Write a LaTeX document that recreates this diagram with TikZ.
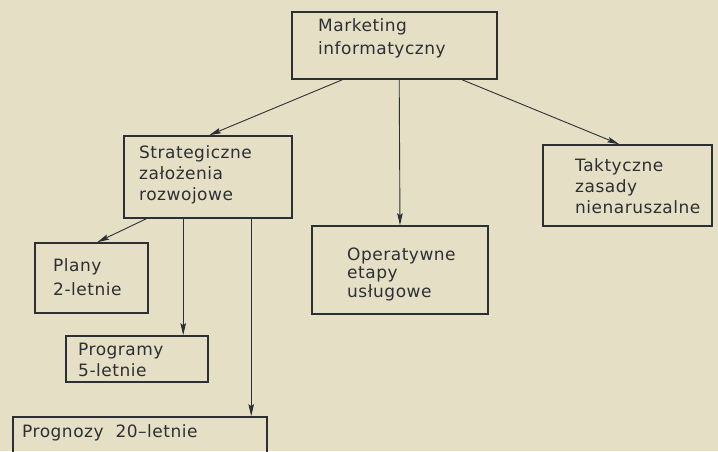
\documentclass[tikz,border=0pt]{standalone}
\usepackage{fontspec}
\setmainfont{DejaVu Sans}[LetterSpace=3]
\usetikzlibrary{arrows.meta,calc}
\definecolor{paper}{RGB}{229,223,197}
\definecolor{ink}{RGB}{44,48,52}
\begin{document}
\begin{tikzpicture}[x=1pt,y=-1pt,
  box/.style={draw=ink,line width=1.6pt,rectangle,inner sep=0pt},
  lbl/.style={anchor=west,inner sep=0pt,align=left,text=ink},
  arr/.style={draw=ink,line width=0.9pt,-{Stealth[length=12pt,width=5.5pt,inset=2pt]}}]
\fill[paper] (0,0) rectangle (718,451);
\useasboundingbox (0,0) rectangle (718,451);
% boxes
\node[box,minimum width=205pt,minimum height=67pt] (mk) at (394.5,45.5) {};
\node[box,minimum width=168pt,minimum height=82pt] (st) at (208,177) {};
\node[box,minimum width=113pt,minimum height=70pt] (pl) at (91.5,278) {};
\node[box,minimum width=142pt,minimum height=46pt] (pr) at (137,359) {};
\node[box,minimum width=254pt,minimum height=60pt] (pg) at (140,447) {};
\node[box,minimum width=176pt,minimum height=88pt] (op) at (400,270) {};
\node[box,minimum width=169pt,minimum height=81pt] (tk) at (627.5,185.5) {};
% labels
\node[lbl,font=\fontsize{17}{23}\selectfont] (tmk) at (318,38.5) {Marketing\\informatyczny};
\node[lbl,font=\fontsize{17}{21}\selectfont] (tst) at (139,175) {Strategiczne\\założenia\\rozwojowe};
\node[lbl,font=\fontsize{17}{24}\selectfont] (tpl) at (53,277) {Plany\\2-letnie};
\node[lbl,font=\fontsize{17}{21}\selectfont] (tpr) at (78,360) {Programy\\5-letnie};
\node[lbl,font=\fontsize{17}{21}\selectfont] (tpg) at (22,433) {Prognozy\ \ 20–letnie};
\node[lbl,font=\fontsize{17}{18.5}\selectfont] (top) at (347,274) {Operatywne\\etapy\\usługowe};
\node[lbl,font=\fontsize{17}{21}\selectfont] (ttk) at (575,186) {Taktyczne\\zasady\\nienaruszalne};
% connectors
\draw[arr] ([xshift=51pt]mk.south west) -- ([xshift=86pt]st.north west);
\draw[arr] ([xshift=108pt]mk.south west) -- (op.north);
\draw[arr] ([xshift=171pt]mk.south west) -- ([xshift=77pt]tk.north west);
\draw[arr] ([xshift=23pt]st.south west) -- ([xshift=63pt]pl.north west);
\draw[arr] ([xshift=60pt]st.south west) -- ([xshift=60pt]st.south west |- pr.north);
\draw[arr] ([xshift=128pt]st.south west) -- ([xshift=128pt]st.south west |- pg.north);
\end{tikzpicture}
\end{document}
